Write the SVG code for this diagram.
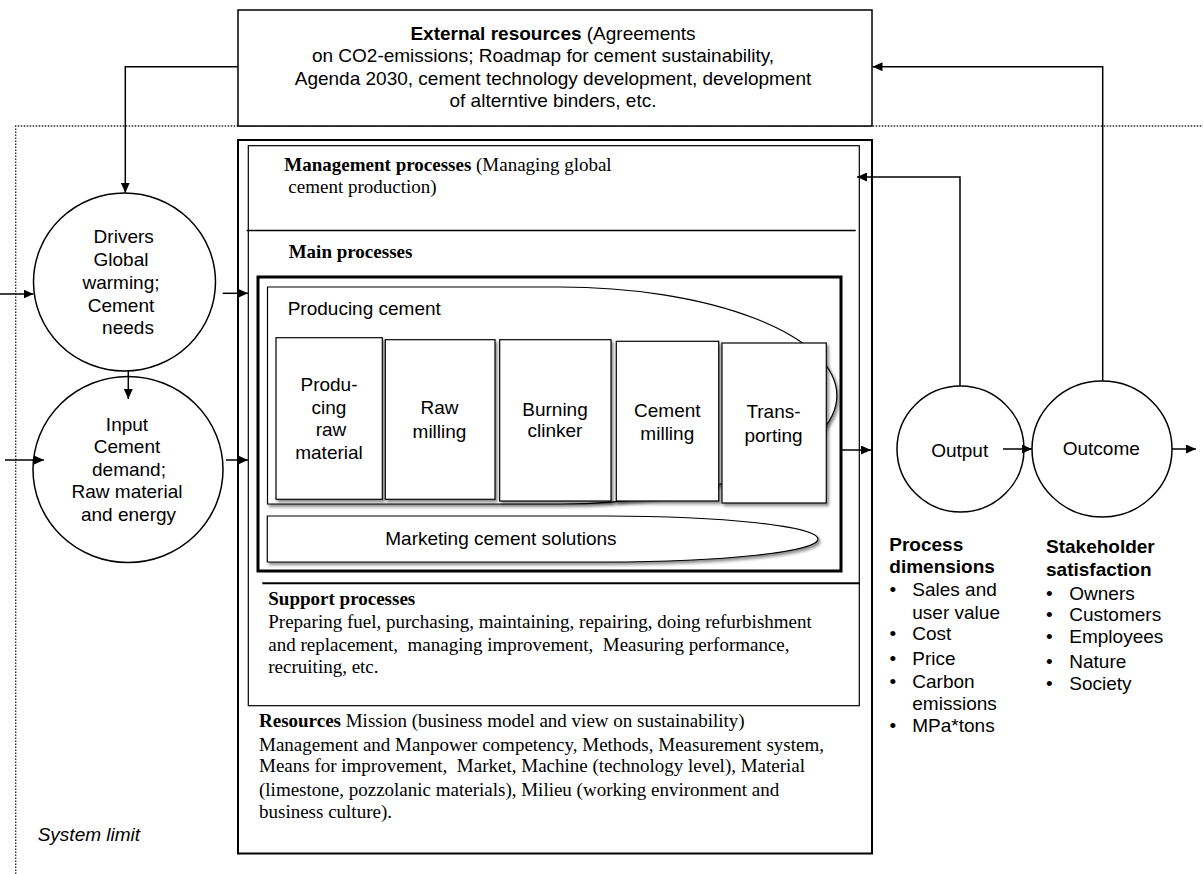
<svg xmlns="http://www.w3.org/2000/svg" width="1203" height="874" viewBox="0 0 1203 874">
<style>
.box{fill:#fff;stroke:#000;stroke-width:1.5}
.thin{fill:#fff;stroke:#000;stroke-width:1.2}
.conn{fill:none;stroke:#000;stroke-width:1.5}
.sans{font-family:"Liberation Sans",Arial,sans-serif;font-size:19px;fill:#000}
.serif{font-family:"Liberation Serif","Times New Roman",serif;font-size:19px;fill:#000}
.mid{text-anchor:middle}
.b{font-weight:bold}
.dot{fill:none;stroke:#222;stroke-width:1.3;stroke-dasharray:1.5,1.5}
</style>
<defs>
<marker id="arr" markerUnits="userSpaceOnUse" markerWidth="11" markerHeight="9" refX="10" refY="4.5" orient="auto">
<path d="M0,0 L10,4.5 L0,9 Z" fill="#000"/>
</marker>
<filter id="sh" x="-10%" y="-10%" width="130%" height="130%">
<feDropShadow dx="2" dy="2.5" stdDeviation="1.5" flood-color="#000" flood-opacity="0.45"/>
</filter>
</defs>
<rect width="1203" height="874" fill="#fff"/>

<g id="system-limit">
<path class="dot" d="M15.7,874 V126 H1203"/>
<text class="sans" x="37.7" y="841" font-style="italic">System limit</text>
</g>

<g id="external-resources">
<rect class="box" x="238" y="10" width="634" height="116"/>
<text class="sans mid" x="553" y="40"><tspan class="b">External resources</tspan> (Agreements</text>
<text class="sans mid" x="543" y="62">on CO2-emissions; Roadmap for cement sustainability,</text>
<text class="sans mid" x="553" y="85">Agenda 2030, cement technology development, development</text>
<text class="sans mid" x="553" y="107">of alterntive binders, etc.</text>
</g>

<g id="drivers">
<ellipse class="box" cx="124.5" cy="282" rx="91" ry="89"/>
<text class="sans mid" x="123.7" y="243.3">Drivers</text>
<text class="sans mid" x="121" y="266">Global</text>
<text class="sans mid" x="121" y="289">warming;</text>
<text class="sans mid" x="121" y="311.7">Cement</text>
<text class="sans mid" x="128" y="334">needs</text>
</g>

<g id="input">
<ellipse class="box" cx="128" cy="469.5" rx="95" ry="93"/>
<text class="sans mid" x="127" y="430.7">Input</text>
<text class="sans mid" x="127" y="453.3">Cement</text>
<text class="sans mid" x="129" y="475.7">demand;</text>
<text class="sans mid" x="127" y="498.3">Raw material</text>
<text class="sans mid" x="128.5" y="520.7">and energy</text>
</g>

<g id="process-system">
<rect x="238" y="140" width="634" height="713.5" fill="#fff" stroke="#000" stroke-width="2"/>
<rect class="thin" x="248.3" y="145.7" width="611" height="560"/>
<line x1="246.7" y1="230.5" x2="855.7" y2="230.5" stroke="#000" stroke-width="1.5"/>
<text class="serif" x="284.3" y="170.7" font-size="18.6"><tspan class="b">Management processes</tspan> (Managing global</text>
<text class="serif" x="288.3" y="192.7" font-size="18.6">cement production)</text>
<text class="serif b" x="288.7" y="258.3">Main processes</text>
<line x1="262.3" y1="583.3" x2="860" y2="583.3" stroke="#000" stroke-width="2"/>
<text class="serif b" x="268.3" y="605">Support processes</text>
<text class="serif" x="268.3" y="628.3">Preparing fuel, purchasing, maintaining, repairing, doing refurbishment</text>
<text class="serif" x="268.3" y="650.7" xml:space="preserve">and replacement,  managing improvement,  Measuring performance,</text>
<text class="serif" x="268.3" y="672.7">recruiting, etc.</text>
<text class="serif" x="259" y="727.3"><tspan class="b">Resources</tspan> Mission (business model and view on sustainability)</text>
<text class="serif" x="259" y="750.7">Management and Manpower competency, Methods, Measurement system,</text>
<text class="serif" x="259" y="772.3" xml:space="preserve">Means for improvement,  Market, Machine (technology level), Material</text>
<text class="serif" x="259" y="795.7">(limestone, pozzolanic materials), Milieu (working environment and</text>
<text class="serif" x="259" y="817.7">business culture).</text>
</g>

<g id="main-processes">
<rect x="258" y="277" width="583" height="294" fill="#fff" stroke="#000" stroke-width="3"/>
</g>

<g id="producing-cement">
<path class="thin" filter="url(#sh)" d="M267.5,287 H560 A277,108.5 0 0 1 560,504 H267.5 Z"/>
<text class="sans" x="287.7" y="315">Producing cement</text>
</g>

<g id="producing-raw-material">
<rect class="thin" filter="url(#sh)" x="276" y="337.7" width="106.3" height="161.6"/>
<text class="sans mid" x="329" y="391">Produ-</text>
<text class="sans mid" x="329" y="414">cing</text>
<text class="sans mid" x="331" y="436">raw</text>
<text class="sans mid" x="329" y="459">material</text>
</g>

<g id="raw-milling">
<rect class="thin" filter="url(#sh)" x="385.3" y="339.7" width="109.7" height="159.6"/>
<text class="sans mid" x="439.5" y="414.3">Raw</text>
<text class="sans mid" x="439.5" y="437.7">milling</text>
</g>

<g id="burning-clinker">
<rect class="thin" filter="url(#sh)" x="499.7" y="339.7" width="111.3" height="161.3"/>
<text class="sans mid" x="555" y="416">Burning</text>
<text class="sans mid" x="555" y="437.3">clinker</text>
</g>

<g id="cement-milling">
<rect class="thin" filter="url(#sh)" x="616.3" y="341.3" width="102.4" height="159.7"/>
<text class="sans mid" x="667.3" y="416.7">Cement</text>
<text class="sans mid" x="667.3" y="440">milling</text>
</g>

<g id="transporting">
<rect class="thin" filter="url(#sh)" x="722" y="343" width="104.3" height="160"/>
<text class="sans mid" x="773.5" y="418.3">Trans-</text>
<text class="sans mid" x="773.5" y="441.7">porting</text>
</g>

<g id="marketing">
<path class="thin" filter="url(#sh)" d="M267.3,516 H606 A212,23 0 0 1 606,562 H267.3 Z"/>
<text class="sans" x="385.3" y="545">Marketing cement solutions</text>
</g>

<g id="output">
<ellipse class="box" cx="960.5" cy="449" rx="63.5" ry="63"/>
<text class="sans mid" x="959.7" y="456.5">Output</text>
</g>

<g id="outcome">
<ellipse class="box" cx="1102" cy="449" rx="70" ry="68"/>
<text class="sans mid" x="1101.3" y="455">Outcome</text>
</g>

<g id="process-dimensions">
<text class="sans b" x="889.3" y="551">Process</text>
<text class="sans b" x="889.3" y="573.3">dimensions</text>
<g class="sans">
<text x="889.5" y="596">•</text><text x="912.3" y="596">Sales and</text>
<text x="912.3" y="619">user value</text>
<text x="889.5" y="640">•</text><text x="912.3" y="640">Cost</text>
<text x="889.5" y="665">•</text><text x="912.3" y="665">Price</text>
<text x="889.5" y="688.3">•</text><text x="912.3" y="688.3">Carbon</text>
<text x="912.3" y="710">emissions</text>
<text x="889.5" y="732.3">•</text><text x="912.3" y="732.3">MPa*tons</text>
</g>
</g>

<g id="stakeholder-satisfaction">
<text class="sans b" x="1046" y="553.3">Stakeholder</text>
<text class="sans b" x="1046" y="576">satisfaction</text>
<g class="sans">
<text x="1046" y="600">•</text><text x="1069.3" y="600">Owners</text>
<text x="1046" y="620.7">•</text><text x="1069.3" y="620.7">Customers</text>
<text x="1046" y="643.3">•</text><text x="1069.3" y="643.3">Employees</text>
<text x="1046" y="667.7">•</text><text x="1069.3" y="667.7">Nature</text>
<text x="1046" y="690">•</text><text x="1069.3" y="690">Society</text>
</g>
</g>

<g id="connectors">
<path class="conn" marker-end="url(#arr)" d="M238,66.7 H125.3 V192.7"/>
<path class="conn" marker-end="url(#arr)" d="M0,294 H33.5"/>
<path class="conn" marker-end="url(#arr)" d="M222.7,293.3 H248"/>
<path class="conn" marker-end="url(#arr)" d="M128.3,371 V399"/>
<path class="conn" marker-end="url(#arr)" d="M5,460 H44"/>
<path class="conn" marker-end="url(#arr)" d="M226,460 H248"/>
<path class="conn" marker-end="url(#arr)" d="M841,450 H871"/>
<path class="conn" marker-end="url(#arr)" d="M960,386 V177 H857"/>
<path class="conn" marker-end="url(#arr)" d="M1003,449 H1032"/>
<path class="conn" marker-end="url(#arr)" d="M1102.7,381 V66.7 H872.5"/>
<path class="conn" marker-end="url(#arr)" d="M1172,449 H1196"/>
</g>
</svg>
